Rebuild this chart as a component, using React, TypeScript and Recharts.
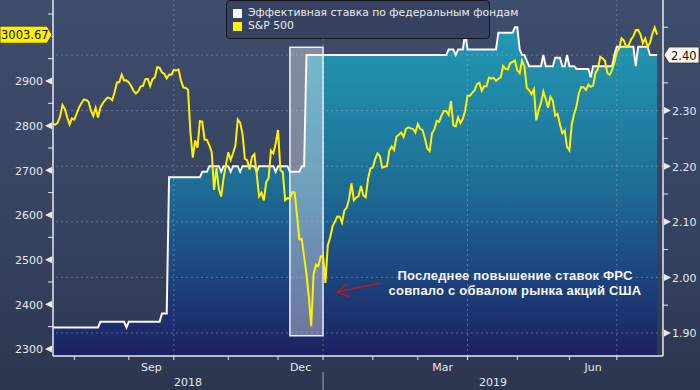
import React from 'react';
import { ComposedChart, Area, Line, XAxis, YAxis, ReferenceLine, ReferenceArea } from 'recharts';

// Bloomberg-style chart: S&P 500 vs effective fed funds rate, Jul 2018 - Jul 2019
const seriesNames = ['Эффективная ставка по федеральным фондам', 'S&P 500'];
const noteLines = ['Последнее повышение ставок ФРС', 'совпало с обвалом рынка акций США'];

// S&P 500 daily close (trading days)
const sp500: [string, number][] = [
  ['2018-07-18', 2815.6], ['2018-07-19', 2804.5], ['2018-07-20', 2801.8], ['2018-07-23', 2807.0], ['2018-07-24', 2820.4],
  ['2018-07-25', 2846.1], ['2018-07-26', 2837.4], ['2018-07-27', 2818.8], ['2018-07-30', 2802.6], ['2018-07-31', 2816.3],
  ['2018-08-01', 2813.4], ['2018-08-02', 2827.2], ['2018-08-03', 2840.4], ['2018-08-06', 2850.4], ['2018-08-07', 2858.5],
  ['2018-08-08', 2857.7], ['2018-08-09', 2853.6], ['2018-08-10', 2833.3], ['2018-08-13', 2821.9], ['2018-08-14', 2840.0],
  ['2018-08-15', 2818.4], ['2018-08-16', 2840.7], ['2018-08-17', 2850.1], ['2018-08-20', 2857.1], ['2018-08-21', 2863.0],
  ['2018-08-22', 2861.8], ['2018-08-23', 2857.0], ['2018-08-24', 2874.7], ['2018-08-27', 2896.7], ['2018-08-28', 2897.5],
  ['2018-08-29', 2914.0], ['2018-08-30', 2901.1], ['2018-08-31', 2901.5],
  ['2018-09-04', 2896.7], ['2018-09-05', 2888.6], ['2018-09-06', 2878.1], ['2018-09-07', 2871.7], ['2018-09-10', 2877.1],
  ['2018-09-11', 2887.9], ['2018-09-12', 2888.9], ['2018-09-13', 2904.2], ['2018-09-14', 2905.0], ['2018-09-17', 2888.8],
  ['2018-09-18', 2904.3], ['2018-09-19', 2908.0], ['2018-09-20', 2930.8], ['2018-09-21', 2929.7], ['2018-09-24', 2919.4],
  ['2018-09-25', 2915.6], ['2018-09-26', 2906.0], ['2018-09-27', 2914.0], ['2018-09-28', 2914.0],
  ['2018-10-01', 2924.6], ['2018-10-02', 2923.4], ['2018-10-03', 2925.5], ['2018-10-04', 2901.6], ['2018-10-05', 2885.6],
  ['2018-10-08', 2884.4], ['2018-10-09', 2880.3], ['2018-10-10', 2785.7], ['2018-10-11', 2728.4], ['2018-10-12', 2767.1],
  ['2018-10-15', 2750.8], ['2018-10-16', 2809.9], ['2018-10-17', 2809.2], ['2018-10-18', 2768.8], ['2018-10-19', 2767.8],
  ['2018-10-22', 2755.9], ['2018-10-23', 2740.7], ['2018-10-24', 2656.1], ['2018-10-25', 2705.6], ['2018-10-26', 2658.7],
  ['2018-10-29', 2641.3], ['2018-10-30', 2682.6], ['2018-10-31', 2711.7],
  ['2018-11-01', 2740.4], ['2018-11-02', 2723.1], ['2018-11-05', 2738.3], ['2018-11-06', 2755.5], ['2018-11-07', 2813.9],
  ['2018-11-08', 2806.8], ['2018-11-09', 2781.0], ['2018-11-12', 2726.2], ['2018-11-13', 2722.2], ['2018-11-14', 2701.6],
  ['2018-11-15', 2730.2], ['2018-11-16', 2736.3], ['2018-11-19', 2690.7], ['2018-11-20', 2641.9], ['2018-11-21', 2649.9],
  ['2018-11-23', 2632.6], ['2018-11-26', 2673.5], ['2018-11-27', 2682.2], ['2018-11-28', 2743.8], ['2018-11-29', 2737.8],
  ['2018-11-30', 2760.2],
  ['2018-12-03', 2790.4], ['2018-12-04', 2700.1], ['2018-12-06', 2696.0], ['2018-12-07', 2633.1], ['2018-12-10', 2637.7],
  ['2018-12-11', 2636.8], ['2018-12-12', 2651.1], ['2018-12-13', 2650.5], ['2018-12-14', 2600.0], ['2018-12-17', 2545.9],
  ['2018-12-18', 2546.2], ['2018-12-19', 2507.0], ['2018-12-20', 2467.4], ['2018-12-21', 2416.6], ['2018-12-24', 2351.1],
  ['2018-12-26', 2467.7], ['2018-12-27', 2488.8], ['2018-12-28', 2485.7], ['2018-12-31', 2506.9],
  ['2019-01-02', 2510.0], ['2019-01-03', 2447.9], ['2019-01-04', 2531.9], ['2019-01-07', 2549.7], ['2019-01-08', 2574.4],
  ['2019-01-09', 2585.0], ['2019-01-10', 2596.6], ['2019-01-11', 2596.3], ['2019-01-14', 2582.6], ['2019-01-15', 2610.3],
  ['2019-01-16', 2616.1], ['2019-01-17', 2636.0], ['2019-01-18', 2670.7], ['2019-01-22', 2632.9], ['2019-01-23', 2638.7],
  ['2019-01-24', 2642.3], ['2019-01-25', 2664.8], ['2019-01-28', 2643.9], ['2019-01-29', 2640.0], ['2019-01-30', 2681.1],
  ['2019-01-31', 2704.1],
  ['2019-02-01', 2706.5], ['2019-02-04', 2724.9], ['2019-02-05', 2737.7], ['2019-02-06', 2731.6], ['2019-02-07', 2706.1],
  ['2019-02-08', 2707.9], ['2019-02-11', 2709.8], ['2019-02-12', 2744.7], ['2019-02-13', 2753.0], ['2019-02-14', 2745.7],
  ['2019-02-15', 2775.6], ['2019-02-19', 2779.8], ['2019-02-20', 2784.7], ['2019-02-21', 2774.9], ['2019-02-22', 2792.7],
  ['2019-02-25', 2796.1], ['2019-02-26', 2793.9], ['2019-02-27', 2792.4], ['2019-02-28', 2784.5],
  ['2019-03-01', 2803.7], ['2019-03-04', 2792.8], ['2019-03-05', 2789.7], ['2019-03-06', 2771.5], ['2019-03-07', 2748.9],
  ['2019-03-08', 2743.1], ['2019-03-11', 2783.3], ['2019-03-12', 2791.5], ['2019-03-13', 2810.9], ['2019-03-14', 2808.5],
  ['2019-03-15', 2822.5], ['2019-03-18', 2832.9], ['2019-03-19', 2832.6], ['2019-03-20', 2824.2], ['2019-03-21', 2854.9],
  ['2019-03-22', 2800.7], ['2019-03-25', 2798.4], ['2019-03-26', 2818.5], ['2019-03-27', 2805.4], ['2019-03-28', 2815.4],
  ['2019-03-29', 2834.4],
  ['2019-04-01', 2867.2], ['2019-04-02', 2867.2], ['2019-04-03', 2873.4], ['2019-04-04', 2879.4], ['2019-04-05', 2892.7],
  ['2019-04-08', 2895.8], ['2019-04-09', 2878.2], ['2019-04-10', 2888.2], ['2019-04-11', 2888.3], ['2019-04-12', 2907.4],
  ['2019-04-15', 2905.6], ['2019-04-16', 2907.1], ['2019-04-17', 2900.5], ['2019-04-18', 2905.0], ['2019-04-22', 2908.0],
  ['2019-04-23', 2933.7], ['2019-04-24', 2927.3], ['2019-04-25', 2926.2], ['2019-04-26', 2939.9], ['2019-04-29', 2943.0],
  ['2019-04-30', 2945.8],
  ['2019-05-01', 2923.7], ['2019-05-02', 2917.5], ['2019-05-03', 2945.6], ['2019-05-06', 2932.5], ['2019-05-07', 2884.1],
  ['2019-05-08', 2879.4], ['2019-05-09', 2870.7], ['2019-05-10', 2881.4], ['2019-05-13', 2811.9], ['2019-05-14', 2834.4],
  ['2019-05-15', 2851.0], ['2019-05-16', 2876.3], ['2019-05-17', 2859.5], ['2019-05-20', 2840.2], ['2019-05-21', 2864.4],
  ['2019-05-22', 2856.3], ['2019-05-23', 2822.2], ['2019-05-24', 2826.1], ['2019-05-28', 2802.4], ['2019-05-29', 2783.0],
  ['2019-05-30', 2788.9], ['2019-05-31', 2752.1],
  ['2019-06-03', 2744.5], ['2019-06-04', 2803.3], ['2019-06-05', 2826.2], ['2019-06-06', 2843.5], ['2019-06-07', 2873.3],
  ['2019-06-10', 2886.7], ['2019-06-11', 2885.7], ['2019-06-12', 2879.8], ['2019-06-13', 2891.6], ['2019-06-14', 2887.0],
  ['2019-06-17', 2889.7], ['2019-06-18', 2917.8], ['2019-06-19', 2926.5], ['2019-06-20', 2954.2], ['2019-06-21', 2950.5],
  ['2019-06-24', 2945.4], ['2019-06-25', 2917.4], ['2019-06-26', 2913.8], ['2019-06-27', 2924.9], ['2019-06-28', 2941.8],
  ['2019-07-01', 2964.3], ['2019-07-02', 2973.0], ['2019-07-03', 2995.8], ['2019-07-05', 2990.4], ['2019-07-08', 2976.0],
  ['2019-07-09', 2979.6], ['2019-07-10', 2993.1], ['2019-07-11', 2999.9], ['2019-07-12', 3013.8], ['2019-07-15', 3014.3],
  ['2019-07-16', 3004.0], ['2019-07-17', 2984.4], ['2019-07-18', 2995.1], ['2019-07-19', 2976.6], ['2019-07-22', 2985.0],
  ['2019-07-23', 3005.5], ['2019-07-24', 3019.6], ['2019-07-25', 3003.67],
];

// effective fed funds rate, on the days where it changes
const fedFunds: [string, number][] = [
  ['2018-07-18', 1.91], ['2018-08-15', 1.91], ['2018-08-16', 1.92], ['2018-08-30', 1.92], ['2018-08-31', 1.91],
  ['2018-09-04', 1.92], ['2018-09-21', 1.92], ['2018-09-24', 1.935], ['2018-09-26', 1.935], ['2018-09-27', 2.18],
  ['2018-10-16', 2.18], ['2018-10-17', 2.19], ['2018-10-19', 2.19], ['2018-10-22', 2.20], ['2018-10-26', 2.20],
  ['2018-10-29', 2.19], ['2018-10-30', 2.20], ['2018-11-01', 2.20], ['2018-11-02', 2.19], ['2018-11-05', 2.20],
  ['2018-11-07', 2.20], ['2018-11-08', 2.19], ['2018-11-09', 2.20], ['2018-11-16', 2.20], ['2018-11-19', 2.19],
  ['2018-11-20', 2.20], ['2018-11-29', 2.20], ['2018-11-30', 2.19], ['2018-12-03', 2.20], ['2018-12-10', 2.20],
  ['2018-12-11', 2.19], ['2018-12-17', 2.19], ['2018-12-18', 2.20], ['2018-12-19', 2.20], ['2018-12-20', 2.40],
  ['2019-03-19', 2.40], ['2019-03-20', 2.41], ['2019-03-22', 2.41], ['2019-03-25', 2.40], ['2019-03-26', 2.41],
  ['2019-03-28', 2.41], ['2019-03-29', 2.44], ['2019-04-01', 2.41], ['2019-04-17', 2.41], ['2019-04-18', 2.44],
  ['2019-04-29', 2.44], ['2019-04-30', 2.45], ['2019-05-01', 2.45], ['2019-05-02', 2.41], ['2019-05-03', 2.40],
  ['2019-05-06', 2.40], ['2019-05-08', 2.38], ['2019-05-15', 2.38], ['2019-05-16', 2.40], ['2019-05-17', 2.38],
  ['2019-05-22', 2.38], ['2019-05-23', 2.395], ['2019-05-28', 2.395], ['2019-05-29', 2.38], ['2019-05-30', 2.38],
  ['2019-05-31', 2.40], ['2019-06-03', 2.38], ['2019-06-05', 2.38], ['2019-06-06', 2.375], ['2019-06-13', 2.375],
  ['2019-06-14', 2.36], ['2019-06-17', 2.38], ['2019-06-27', 2.38], ['2019-06-28', 2.40], ['2019-07-01', 2.415],
  ['2019-07-11', 2.415], ['2019-07-12', 2.38], ['2019-07-15', 2.415], ['2019-07-19', 2.415], ['2019-07-22', 2.40],
  ['2019-07-25', 2.40],
];

const monthNames = ['Sep', 'Dec', 'Mar', 'Jun'];
const labelledMonths = ['2018-09', '2018-12', '2019-03', '2019-06'];
const yearLabels = ['2018', '2019'];
const spxMajor = [2300, 2400, 2500, 2600, 2700, 2800, 2900];
const spxMinor = [2350, 2450, 2550, 2650, 2750, 2850, 2950, 3000, 3050];
const fedMajor = [1.9, 2.0, 2.1, 2.2, 2.3, 2.4];
const fedMinor = [1.95, 2.05, 2.15, 2.25, 2.35, 2.45];
const highlightDates = ['2018-12-11', '2019-01-02'];
const highlightRate = [1.895, 2.414];

const X_DOMAIN: [number, number] = [1, 258.5];
const SPX_DOMAIN: [number, number] = [2284.3, 3081.3];
const FED_DOMAIN: [number, number] = [1.8586, 2.499];

const W = 700;
const H = 390;
const LEFT_W = 53;
const RIGHT_W = 37;
const X_H = 34;

const fedMap = new Map(fedFunds);
const rows = sp500.map(([date, v], i) => ({
  i,
  date,
  spx: v,
  fed: fedMap.has(date) ? fedMap.get(date) : null,
}));
const indexOf = (d: string) => rows.findIndex(r => r.date === d);

const monthStarts = rows.filter((r, k) => k > 0 && r.date.slice(0, 7) !== rows[k - 1].date.slice(0, 7));
const quarterStarts = monthStarts.filter(r => ['01', '04', '07', '10'].includes(r.date.slice(5, 7))).map(r => r.i);
const yearStart = monthStarts.find(r => r.date.slice(5, 7) === '01')!.i;

const tickKinds = new Map<number, { kind: string; text?: string }>();
monthStarts.forEach(r => tickKinds.set(r.i, { kind: r.i === yearStart ? 'year' : 'month' }));
labelledMonths.forEach((m, k) => {
  const s = monthStarts.find(r => r.date.startsWith(m))!;
  const e = monthStarts[monthStarts.indexOf(s) + 1];
  tickKinds.set((s.i + e.i) / 2, { kind: 'mlabel', text: monthNames[k] });
});
tickKinds.set((X_DOMAIN[0] + yearStart) / 2, { kind: 'ylabel', text: yearLabels[0] });
tickKinds.set((yearStart + X_DOMAIN[1]) / 2, { kind: 'ylabel', text: yearLabels[1] });
const xTicks = Array.from(tickKinds.keys()).sort((a, b) => a - b);

const lastSpx = sp500[sp500.length - 1][1];
const lastFed = fedFunds[fedFunds.length - 1][1];

const FONT = '"DejaVu Sans", Verdana, sans-serif';
const TEXT = '#e4e8f0';
const AXIS = '#e6e9f0';
const GRID = 'rgba(165,180,210,0.45)';

const XTick = (props: any) => {
  const { x, y, payload } = props;
  const t = tickKinds.get(payload.value);
  if (!t) return null;
  if (t.kind === 'month') return <line x1={x} x2={x} y1={y} y2={y + 4} stroke={AXIS} strokeWidth={1} />;
  if (t.kind === 'year')
    return (
      <g>
        <line x1={x} x2={x} y1={y} y2={y + 4} stroke={AXIS} strokeWidth={1} />
        <line x1={x} x2={x} y1={y + 16} y2={y + X_H} stroke="#8c95aa" strokeWidth={1.2} />
      </g>
    );
  return (
    <text x={x} y={t.kind === 'mlabel' ? y + 15 : y + 30} textAnchor="middle" fill={TEXT}
      style={{ fontFamily: FONT, fontSize: 11 }}>
      {t.text}
    </text>
  );
};

const SpxTick = (props: any) => {
  const { x, y, payload } = props;
  const v = payload.value;
  if (v === lastSpx) {
    const l = x - LEFT_W;
    return (
      <g>
        <polygon points={`${l},${y - 8.5} ${x - 6},${y - 8.5} ${x - 1},${y} ${x - 6},${y + 8.5} ${l},${y + 8.5}`}
          fill="#fff200" stroke="#3a3a20" strokeWidth={0.8} />
        <text x={l + 1} y={y + 4.5} fill="#111" style={{ fontFamily: FONT, fontSize: 11.5 }}>{v.toFixed(2)}</text>
      </g>
    );
  }
  if (spxMajor.includes(v))
    return (
      <g>
        <polygon points={`${x - 8},${y} ${x - 1},${y - 3.5} ${x - 1},${y + 3.5}`} fill={AXIS} />
        <text x={x - 10} y={y + 4.5} textAnchor="end" fill={TEXT} style={{ fontFamily: FONT, fontSize: 11 }}>{v}</text>
      </g>
    );
  return <line x1={x - 5} x2={x} y1={y} y2={y} stroke={AXIS} strokeWidth={1} />;
};

const FedTick = (props: any) => {
  const { x, y, payload } = props;
  const v = payload.value;
  if (Math.abs(v - lastFed) < 1e-9) {
    const r = x + RIGHT_W - 1;
    return (
      <g>
        <polygon points={`${x + 1},${y} ${x + 6},${y - 8} ${r},${y - 8} ${r},${y + 8} ${x + 6},${y + 8}`}
          fill="#fff6ee" stroke="#333" strokeWidth={0.8} />
        <text x={x + 8} y={y + 4.5} fill="#111" style={{ fontFamily: FONT, fontSize: 11.5 }}>{v.toFixed(2)}</text>
      </g>
    );
  }
  if (fedMajor.some(m => Math.abs(m - v) < 1e-9))
    return (
      <g>
        <polygon points={`${x + 1},${y - 3.5} ${x + 1},${y + 3.5} ${x + 8},${y}`} fill={AXIS} />
        <text x={x + 9} y={y + 4.5} fill={TEXT} style={{ fontFamily: FONT, fontSize: 11 }}>{v.toFixed(2)}</text>
      </g>
    );
  return <line x1={x} x2={x + 5} y1={y} y2={y} stroke={AXIS} strokeWidth={1} />;
};

export default function App() {
  const colors = ['#fff6f2', '#fff200'];
  return (
    <div style={{ position: 'fixed', left: 0, top: 0, width: W, height: H, overflow: 'hidden',
      background: 'linear-gradient(180deg, #3f4d6c 0%, #354260 60%, #2c3650 100%)' }}>
      <ComposedChart width={W} height={H} data={rows} margin={{ top: 0, right: 0, bottom: 0, left: 0 }}>
        <defs>
          <linearGradient id="fedFill" x1="0" y1="0" x2="0" y2="1">
            <stop offset="0%" stopColor="#2399b3" />
            <stop offset="20%" stopColor="#2088a8" />
            <stop offset="50%" stopColor="#1e6b94" />
            <stop offset="70%" stopColor="#1d4c84" />
            <stop offset="100%" stopColor="#1b2160" />
          </linearGradient>
        </defs>
        <XAxis xAxisId="x" type="number" dataKey="i" domain={X_DOMAIN} allowDataOverflow ticks={xTicks} interval={0}
          tickLine={false} tickSize={0} tickMargin={0} height={X_H} tick={(p: any) => <XTick {...p} />}
          axisLine={{ stroke: AXIS, strokeWidth: 1.5 }} />
        <YAxis yAxisId="spx" orientation="left" domain={SPX_DOMAIN} allowDataOverflow width={LEFT_W}
          ticks={[...spxMajor, ...spxMinor, lastSpx].sort((a, b) => a - b)} interval={0}
          tickLine={false} tickSize={0} tickMargin={0} tick={(p: any) => <SpxTick {...p} />}
          axisLine={{ stroke: AXIS, strokeWidth: 1.5 }} />
        <YAxis yAxisId="fed" orientation="right" domain={FED_DOMAIN} allowDataOverflow width={RIGHT_W}
          ticks={[...fedMajor, ...fedMinor].sort((a, b) => a - b)} interval={0}
          tickLine={false} tickSize={0} tickMargin={0} tick={(p: any) => <FedTick {...p} />}
          axisLine={{ stroke: AXIS, strokeWidth: 1.5 }} />
        <Area xAxisId="x" yAxisId="fed" dataKey="fed" type="linear" connectNulls baseValue={FED_DOMAIN[0]}
          stroke="none" fill="url(#fedFill)" fillOpacity={1} isAnimationActive={false} />
        {fedMajor.map(v => (
          <ReferenceLine key={'h' + v} xAxisId="x" yAxisId="fed" y={v} stroke={GRID} strokeDasharray="2 3" />
        ))}
        {quarterStarts.map(v => (
          <ReferenceLine key={'v' + v} xAxisId="x" yAxisId="fed" x={v} stroke={GRID} strokeDasharray="2 3" />
        ))}
        <ReferenceArea xAxisId="x" yAxisId="fed" x1={indexOf(highlightDates[0])} x2={indexOf(highlightDates[1])}
          y1={highlightRate[0]} y2={highlightRate[1]} fill="#ffffff" fillOpacity={0.36} stroke="#ffffff"
          strokeWidth={1.5} strokeOpacity={0.9} />
        <Line xAxisId="x" yAxisId="fed" dataKey="fed" type="linear" connectNulls stroke={colors[0]} strokeWidth={2}
          dot={false} isAnimationActive={false} />
        <Line xAxisId="x" yAxisId="spx" dataKey="spx" type="linear" stroke={colors[1]} strokeWidth={2}
          dot={false} isAnimationActive={false} />
      </ComposedChart>

      {/* legend */}
      <div style={{ position: 'absolute', left: 226, top: 0, width: 262, height: 37, background: '#36425f',
        border: '1px solid #14161e', borderRadius: 4, fontFamily: FONT, fontSize: 10.8, color: '#e8eaf0' }}>
        {seriesNames.map((n, k) => (
          <div key={n} style={{ position: 'absolute', left: 6, top: 6 + k * 13, height: 12, display: 'flex', alignItems: 'center' }}>
            <span style={{ width: 9, height: 9, background: colors[k], display: 'inline-block', marginRight: 6 }} />
            <span style={{ whiteSpace: 'nowrap', lineHeight: '12px' }}>{n}</span>
          </div>
        ))}
      </div>

      {/* annotation */}
      <div style={{ position: 'absolute', left: 380, top: 268, width: 270, textAlign: 'center',
        fontFamily: '"Liberation Sans", Arial, sans-serif', fontWeight: 700, fontSize: 13, letterSpacing: 0.2,
        lineHeight: '15px', color: '#f6f6fa' }}>
        {noteLines.map(l => <div key={l}>{l}</div>)}
      </div>
      <svg width={W} height={H} style={{ position: 'absolute', left: 0, top: 0, pointerEvents: 'none' }}>
        <path d="M381 283 L337 292 M348 283 L337 292 L350 297" fill="none" stroke="#b01a2c" strokeWidth={1.4} />
      </svg>
    </div>
  );
}
